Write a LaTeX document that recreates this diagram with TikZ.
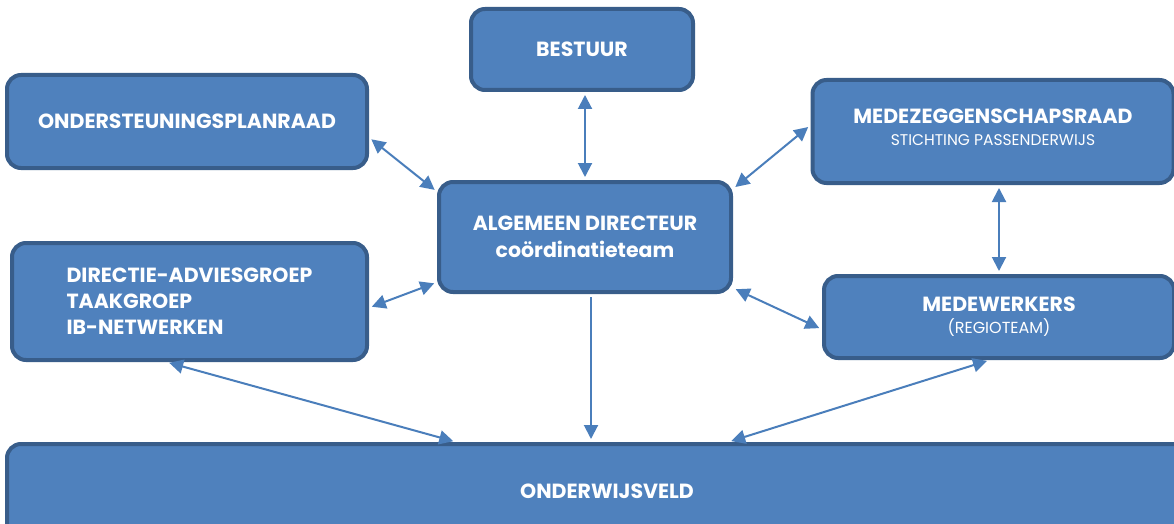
\documentclass[tikz,border=0pt]{standalone}
\usepackage{fontspec}
\setmainfont{Poppins}
\usetikzlibrary{arrows.meta, calc}
\definecolor{boxblue}{HTML}{4F81BD}
\definecolor{boxedge}{HTML}{385D8A}
\definecolor{linkblue}{HTML}{4A7EBB}

\begin{document}
\begin{tikzpicture}[x = 1pt, y = -1pt,
		box/.style = {draw = boxedge, fill = boxblue, line width = 4pt, rounded corners = 14pt, text = white, inner sep = 0pt, align = center, font = \fontsize{20.5}{26}\selectfont\bfseries},
		link/.style = {linkblue, line width = 2pt, {Triangle[length = 14pt, width = 14pt]}-{Triangle[length = 14pt, width = 14pt]}, shorten < = 3pt, shorten > = 3pt}]
	\useasboundingbox (0,0) rectangle (1174,524);
	\clip (0,0) rectangle (1174,524);

	% boxes
	\node[box, minimum width = 222pt, minimum height = 81pt] (bes) at (582,49.5) {BESTUUR};
	\node[box, minimum width = 360pt, minimum height = 93pt] (ond) at (187,121.5) {ONDERSTEUNINGSPLANRAAD};
	\node[box, minimum width = 361pt, minimum height = 103pt] (mz) at (993,131.5) {MEDEZEGGENSCHAPSRAAD\\[-4pt]{\fontsize{15.5}{16}\selectfont\mdseries STICHTING PASSENDERWIJS}\\[-18pt]};
	\node[box, minimum width = 292pt, minimum height = 110pt] (alg) at (585,237) {ALGEMEEN DIRECTEUR\\[1pt]coördinatieteam};
	\node[box, align = left, minimum width = 355pt, minimum height = 117pt] (dir) at (189.5,301.5) {DIRECTIE-ADVIESGROEP\\TAAKGROEP\\IB-NETWERKEN};
	\node[box, minimum width = 350pt, minimum height = 82pt] (mw) at (999,317) {MEDEWERKERS\\[-4pt]{\fontsize{16}{16}\selectfont\mdseries (REGIOTEAM)}};
	\node[box, minimum width = 1200pt, minimum height = 94pt] (ow) at (607,491) {ONDERWIJSVELD};

	% links
	\draw[link] (bes.south -| alg.north) -- (alg.north);
	\draw[link] (ond.-5) -- (alg.163);
	\draw[link] (mz.178) -- (alg.18);
	\draw[link] (dir.-2) -- (alg.197);
	\draw[link] (mw.north |- mz.south) -- (mw.north);
	\draw[link] (mw.184) -- (alg.-19);
	\draw[link, -{Triangle[length = 14pt, width = 14pt]}] ([xshift = 6pt]alg.south) -- ([xshift = 6pt]alg.south |- ow.north);
	\draw[link] (dir.-111) -- (ow.162);
	\draw[link] (mw.-102) -- (ow.22);
\end{tikzpicture}
\end{document}
